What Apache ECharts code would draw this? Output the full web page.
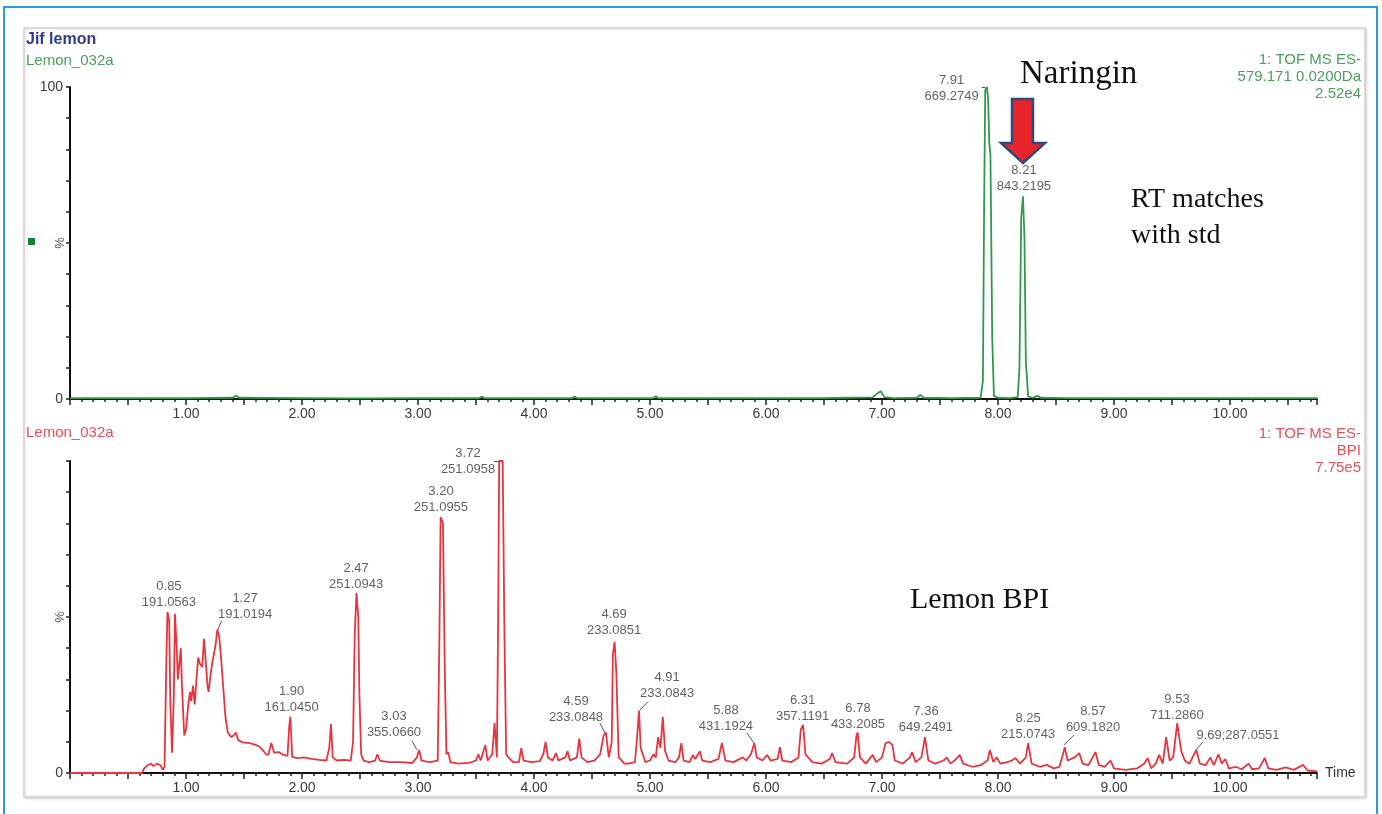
<!DOCTYPE html>
<html>
<head>
<meta charset="utf-8" />
<title>Jif lemon</title>
<style>
  html, body { margin: 0; padding: 0; background: #fff; }
</style>
</head>
<body>
<div id="main" style="width: 1382px;height: 814px"></div>
<script src="https://cdn.jsdelivr.net/npm/echarts@6/dist/echarts.min.js"></script>
<script>
// time (min) / relative intensity (%)
const naringinTrace = [
  [0, 0.3], [0.5, 0.3], [1.0, 0.3], [1.40, 0.4], [1.43, 1.0], [1.46, 0.4], [2.0, 0.3], [2.5, 0.2],
  [3.0, 0.3], [3.53, 0.3], [3.55, 0.8], [3.57, 0.3], [4.0, 0.3], [4.33, 0.3], [4.35, 0.8], [4.37, 0.3],
  [5.03, 0.3], [5.05, 0.9], [5.07, 0.3], [5.5, 0.3], [6.0, 0.3], [6.5, 0.3], [6.7, 0.4], [6.92, 0.5],
  [6.96, 1.8], [6.99, 2.5], [7.02, 0.6], [7.10, 0.3], [7.30, 0.4], [7.33, 1.3], [7.36, 0.4], [7.60, 0.3],
  [7.85, 0.4], [7.87, 6], [7.88, 60], [7.89, 99], [7.905, 100], [7.915, 96], [7.925, 82], [7.935, 78],
  [7.95, 20], [7.965, 1], [8.00, 0.4], [8.10, 0.3], [8.17, 0.6], [8.185, 10], [8.20, 58], [8.215, 65],
  [8.228, 52], [8.24, 12], [8.26, 0.8], [8.30, 0.4], [8.34, 1], [8.37, 0.4], [8.60, 0.3], [9.0, 0.3],
  [9.5, 0.3], [10.0, 0.3], [10.5, 0.3], [10.75, 0.3]
];

const bpiTrace = [
  [0, 0], [0.62, 0], [0.64, 1.5], [0.67, 2.5], [0.70, 3], [0.72, 2.2], [0.75, 3], [0.78, 2.5], [0.80, 1],
  [0.815, 2], [0.83, 35], [0.84, 51.6], [0.855, 49], [0.865, 22], [0.88, 6.5], [0.895, 25], [0.905, 51],
  [0.92, 40], [0.93, 30], [0.945, 36], [0.955, 40], [0.965, 28], [0.985, 12], [1.00, 14], [1.02, 22],
  [1.035, 26], [1.045, 23], [1.06, 28], [1.075, 22], [1.09, 30], [1.105, 37], [1.12, 35], [1.14, 34],
  [1.155, 43], [1.17, 36], [1.185, 28], [1.195, 26], [1.21, 31], [1.225, 35], [1.24, 38], [1.255, 41],
  [1.27, 46], [1.285, 44], [1.30, 38], [1.32, 28], [1.34, 18], [1.36, 13], [1.39, 11.5], [1.41, 12],
  [1.43, 13], [1.45, 10.5], [1.49, 9.8], [1.55, 9.6], [1.60, 9], [1.63, 8.5], [1.66, 7.4], [1.69, 6],
  [1.71, 5.8], [1.735, 9.6], [1.76, 6.5], [1.80, 6.7], [1.84, 5.8], [1.875, 5.5], [1.89, 15], [1.90, 18],
  [1.915, 5.2], [1.96, 4.8], [2.02, 5], [2.08, 4.5], [2.15, 4.2], [2.21, 4], [2.235, 8], [2.25, 15.7],
  [2.265, 5], [2.30, 4], [2.36, 4.2], [2.42, 4], [2.44, 10], [2.455, 45], [2.47, 57.7], [2.485, 50],
  [2.495, 25], [2.51, 6], [2.53, 4], [2.58, 3.5], [2.63, 4], [2.65, 6], [2.67, 4], [2.75, 3.5],
  [2.85, 3.5], [2.95, 3.2], [2.99, 5], [3.01, 7.4], [3.03, 4], [3.10, 3.5], [3.17, 4], [3.185, 45],
  [3.195, 82], [3.215, 80], [3.23, 35], [3.245, 6], [3.26, 6.7], [3.28, 3.5], [3.35, 3], [3.45, 3.3],
  [3.50, 4], [3.52, 6], [3.54, 4], [3.58, 9], [3.60, 4], [3.64, 6], [3.66, 16], [3.68, 5], [3.69, 45],
  [3.70, 100], [3.73, 100], [3.745, 45], [3.76, 6], [3.78, 5], [3.82, 3.5], [3.87, 3.5], [3.89, 8],
  [3.91, 4], [3.98, 3.5], [4.05, 3.8], [4.08, 6], [4.10, 10], [4.12, 5], [4.16, 4], [4.19, 6.4], [4.21, 4],
  [4.27, 5], [4.29, 7], [4.31, 4], [4.37, 5], [4.39, 11], [4.41, 5], [4.46, 3.5], [4.52, 4], [4.57, 6],
  [4.60, 12], [4.62, 13], [4.645, 5], [4.67, 10], [4.68, 38], [4.695, 42], [4.71, 32], [4.73, 5],
  [4.78, 3], [4.81, 3], [4.87, 3.5], [4.89, 12], [4.905, 20], [4.92, 8], [4.96, 3.5], [5.00, 4],
  [5.03, 6], [5.05, 5], [5.07, 11.5], [5.09, 8], [5.11, 18], [5.13, 7], [5.16, 4], [5.22, 3.5], [5.25, 5],
  [5.27, 9.6], [5.29, 4], [5.34, 3.5], [5.37, 5.8], [5.39, 4.5], [5.43, 7], [5.45, 4], [5.52, 3.5],
  [5.59, 4.5], [5.62, 9.6], [5.65, 4], [5.72, 3.5], [5.80, 5], [5.83, 4], [5.87, 6], [5.90, 9.6],
  [5.92, 5], [5.97, 4], [6.01, 5.8], [6.04, 4], [6.10, 4.5], [6.12, 8.3], [6.14, 4], [6.22, 3.5],
  [6.28, 5], [6.30, 14], [6.32, 15.4], [6.34, 6], [6.40, 3.5], [6.48, 3], [6.55, 4.5], [6.57, 6.4],
  [6.60, 3.5], [6.70, 3], [6.76, 5], [6.78, 12], [6.79, 13], [6.81, 5], [6.86, 3], [6.92, 5.8],
  [6.95, 3.5], [7.00, 5], [7.03, 9.5], [7.06, 10], [7.09, 9], [7.11, 4], [7.18, 3], [7.24, 5],
  [7.26, 6.7], [7.29, 3.5], [7.34, 5], [7.37, 11.5], [7.40, 4], [7.46, 3], [7.53, 4], [7.56, 5],
  [7.59, 3], [7.64, 4.5], [7.67, 5.8], [7.70, 3], [7.78, 2], [7.85, 2.5], [7.91, 4], [7.93, 7.4],
  [7.96, 3.5], [7.99, 5], [8.02, 3], [8.08, 3.5], [8.12, 4], [8.15, 4.8], [8.19, 3], [8.24, 5],
  [8.26, 9.6], [8.29, 3], [8.36, 2], [8.42, 2.6], [8.48, 1.5], [8.53, 2], [8.56, 6], [8.575, 8.3],
  [8.60, 4], [8.66, 5], [8.70, 6.4], [8.73, 3], [8.78, 2.5], [8.84, 6.7], [8.87, 2.5], [8.92, 2],
  [8.97, 4], [9.00, 1.5], [9.10, 1], [9.20, 1.5], [9.26, 3], [9.29, 4.8], [9.32, 1.5], [9.36, 3],
  [9.39, 5.8], [9.42, 3], [9.45, 11.5], [9.48, 4], [9.51, 5], [9.545, 16], [9.58, 7], [9.61, 4],
  [9.65, 3], [9.69, 6], [9.71, 7.4], [9.74, 3], [9.79, 2.5], [9.83, 5], [9.86, 2.5], [9.90, 6],
  [9.93, 3], [9.96, 4.5], [9.99, 1.5], [10.05, 2], [10.10, 1.2], [10.16, 3], [10.19, 1.2], [10.25, 1.5],
  [10.30, 4.8], [10.33, 1.5], [10.40, 1], [10.48, 1.8], [10.55, 1], [10.63, 2.6], [10.67, 0.8], [10.75, 0.5]
];

// peak annotations: [time, intensity of the text's bottom centre, text]
const naringinLabels = [
  [7.60, 94.3, '7.91\n669.2749'],
  [8.224, 65.5, '8.21\n843.2195']
];
const bpiLabels = [
  [0.853, 52, '0.85\n191.0563'],
  [1.509, 48.4, '1.27\n191.0194'],
  [1.911, 18.5, '1.90\n161.0450'],
  [2.466, 58, '2.47\n251.0943'],
  [2.793, 10.3, '3.03\n355.0660'],
  [3.198, 82.7, '3.20\n251.0955'],
  [3.431, 94.6, '3.72\n251.0958'],
  [4.362, 15.4, '4.59\n233.0848'],
  [4.690, 43, '4.69\n233.0851'],
  [5.147, 23.1, '4.91\n233.0843'],
  [5.655, 12.3, '5.88\n431.1924'],
  [6.315, 15.5, '6.31\n357.1191'],
  [6.793, 13.1, '6.78\n433.2085'],
  [7.379, 11.9, '7.36\n649.2491'],
  [8.259, 9.9, '8.25\n215.0743'],
  [8.819, 11.9, '8.57\n609.1820'],
  [9.543, 16, '9.53\n711.2860'],
  [10.069, 9.6, '9.69;287.0551']
];

// leader lines from peak to label
const naringinLeaders = [
  [[7.859, 100], [7.89, 100]]
];
const bpiLeaders = [
  [[1.273, 45.8], [1.308, 48.8]],
  [[2.991, 7.4], [2.948, 10.3]],
  [[3.655, 100], [3.70, 100]],
  [[4.621, 12.2], [4.569, 16]],
  [[4.914, 20.2], [4.983, 22.9]],
  [[5.897, 9.6], [5.836, 12.8]],
  [[8.569, 9], [8.655, 12.2]],
  [[9.707, 7.4], [9.767, 10]]
];

const sans = 'Liberation Sans, Arial, sans-serif';
const serif = 'Liberation Serif, Times New Roman, serif';
const green = '#2f9a4c';
const red = '#e8343e';

const chart = echarts.init(document.getElementById('main'));

function xAxis(i, withName) {
  return {
    type: 'value', gridIndex: i, min: 0, max: 10.75, interval: 0.5,
    name: withName ? 'Time' : '', nameLocation: 'end', nameGap: 8,
    nameTextStyle: { color: '#333', fontSize: 14, fontFamily: sans },
    axisLine: { lineStyle: { color: '#111', width: 2 } },
    axisTick: { show: true, length: 6, lineStyle: { color: '#222', width: 1.5 } },
    minorTick: { show: true, splitNumber: 5, length: 3, lineStyle: { color: '#222', width: 1.5 } },
    splitLine: { show: false },
    axisLabel: {
      margin: 8, fontSize: 14, color: '#3a3a3a', fontFamily: sans,
      formatter: v => (v > 0 && Math.abs(v % 1) < 1e-6) ? v.toFixed(2) : ''
    }
  };
}
function yAxis(i, showTop) {
  return {
    type: 'value', gridIndex: i, min: 0, max: 100, interval: 10,
    axisLine: { show: true, lineStyle: { color: '#111', width: 2 } },
    axisTick: { show: true, length: 4, lineStyle: { color: '#222', width: 1.5 } },
    splitLine: { show: false },
    axisLabel: {
      margin: 7, fontSize: 14, color: '#3a3a3a', fontFamily: sans,
      formatter: v => v === 0 ? '0' : (v === 100 && showTop ? '100' : '')
    }
  };
}
function labelSeries(i, rows) {
  return {
    type: 'scatter', xAxisIndex: i, yAxisIndex: i, symbolSize: 0, silent: true,
    data: rows.map(r => ({ value: [r[0], r[1]], text: r[2] })),
    label: {
      show: true, position: 'top', distance: 0, formatter: p => p.data.text,
      fontSize: 13, lineHeight: 16, color: '#383838', fontFamily: sans, align: 'center'
    }
  };
}
function leaderSeries(i, rows) {
  return {
    type: 'lines', coordinateSystem: 'cartesian2d', xAxisIndex: i, yAxisIndex: i,
    silent: true, clip: false,
    data: rows.map(c => ({ coords: c })),
    lineStyle: { color: '#555', width: 1, opacity: 1 }
  };
}

const option = {
  animation: false,
  textStyle: { fontFamily: sans },
  grid: [
    { left: 70, top: 87, width: 1247, height: 312 },
    { left: 70, top: 461, width: 1247, height: 312 }
  ],
  xAxis: [xAxis(0, false), xAxis(1, true)],
  yAxis: [yAxis(0, true), yAxis(1, false)],
  series: [
    {
      type: 'line', xAxisIndex: 0, yAxisIndex: 0, data: naringinTrace, showSymbol: false,
      clip: false, lineStyle: { color: green, width: 1.8 }, itemStyle: { color: green }
    },
    {
      type: 'line', xAxisIndex: 1, yAxisIndex: 1, data: bpiTrace, showSymbol: false,
      clip: false, lineStyle: { color: red, width: 1.8 }, itemStyle: { color: red }
    },
    labelSeries(0, naringinLabels),
    labelSeries(1, bpiLabels),
    leaderSeries(0, naringinLeaders),
    leaderSeries(1, bpiLeaders)
  ],
  graphic: [
    { type: 'rect', z: -10, shape: { x: 4, y: 7, width: 1373, height: 820 },
      style: { fill: '#fff', stroke: '#2a9ad8', lineWidth: 2 } },
    { type: 'rect', z: -9, shape: { x: 24, y: 28, width: 1341, height: 769 },
      style: { fill: '#fff', stroke: '#d4d4d4', lineWidth: 1.5,
        shadowBlur: 3, shadowColor: 'rgba(0,0,0,0.15)', shadowOffsetX: 1, shadowOffsetY: 1 } },
    { type: 'text', x: 26, y: 40, style: { text: 'Jif lemon', fill: '#2e3a8f',
      font: 'bold 16px ' + sans, verticalAlign: 'middle' } },
    { type: 'text', x: 26, y: 61, style: { text: 'Lemon_032a', fill: '#4a9e5c',
      font: '15px ' + sans, verticalAlign: 'middle' } },
    { type: 'text', x: 1361, y: 51, style: { text: '1: TOF MS ES-\n579.171 0.0200Da\n2.52e4',
      fill: '#4a9e5c', font: '15px ' + sans, lineHeight: 17, align: 'right', verticalAlign: 'top' } },
    { type: 'text', x: 26, y: 433, style: { text: 'Lemon_032a', fill: '#e8505a',
      font: '15px ' + sans, verticalAlign: 'middle' } },
    { type: 'text', x: 1361, y: 425, style: { text: '1: TOF MS ES-\nBPI\n7.75e5',
      fill: '#e8505a', font: '15px ' + sans, lineHeight: 17, align: 'right', verticalAlign: 'top' } },
    { type: 'rect', shape: { x: 28, y: 238, width: 7, height: 7 }, style: { fill: '#1a7d3c' } },
    { type: 'text', x: 60, y: 243, rotation: Math.PI / 2, style: { text: '%', fill: '#555',
      font: '13px ' + sans, align: 'center', verticalAlign: 'middle' } },
    { type: 'text', x: 60, y: 617, rotation: Math.PI / 2, style: { text: '%', fill: '#555',
      font: '13px ' + sans, align: 'center', verticalAlign: 'middle' } },
    { type: 'text', x: 1020, y: 74, style: { text: 'Naringin', fill: '#111',
      font: '33px ' + serif, verticalAlign: 'middle' } },
    { type: 'polygon', z: 20,
      shape: { points: [[1012, 99], [1033, 99], [1033, 143], [1045, 143], [1023, 163], [1001, 143], [1012, 143]] },
      style: { fill: '#e8252b', stroke: '#2d4a80', lineWidth: 2.5 } },
    { type: 'text', x: 1131, y: 218, style: { text: 'RT matches\nwith std', fill: '#111',
      font: '28px ' + serif, lineHeight: 36, verticalAlign: 'middle' } },
    { type: 'text', x: 910, y: 600, style: { text: 'Lemon BPI', fill: '#111',
      font: '30px ' + serif, verticalAlign: 'middle' } }
  ]
};
chart.setOption(option);
</script>
</body>
</html>
